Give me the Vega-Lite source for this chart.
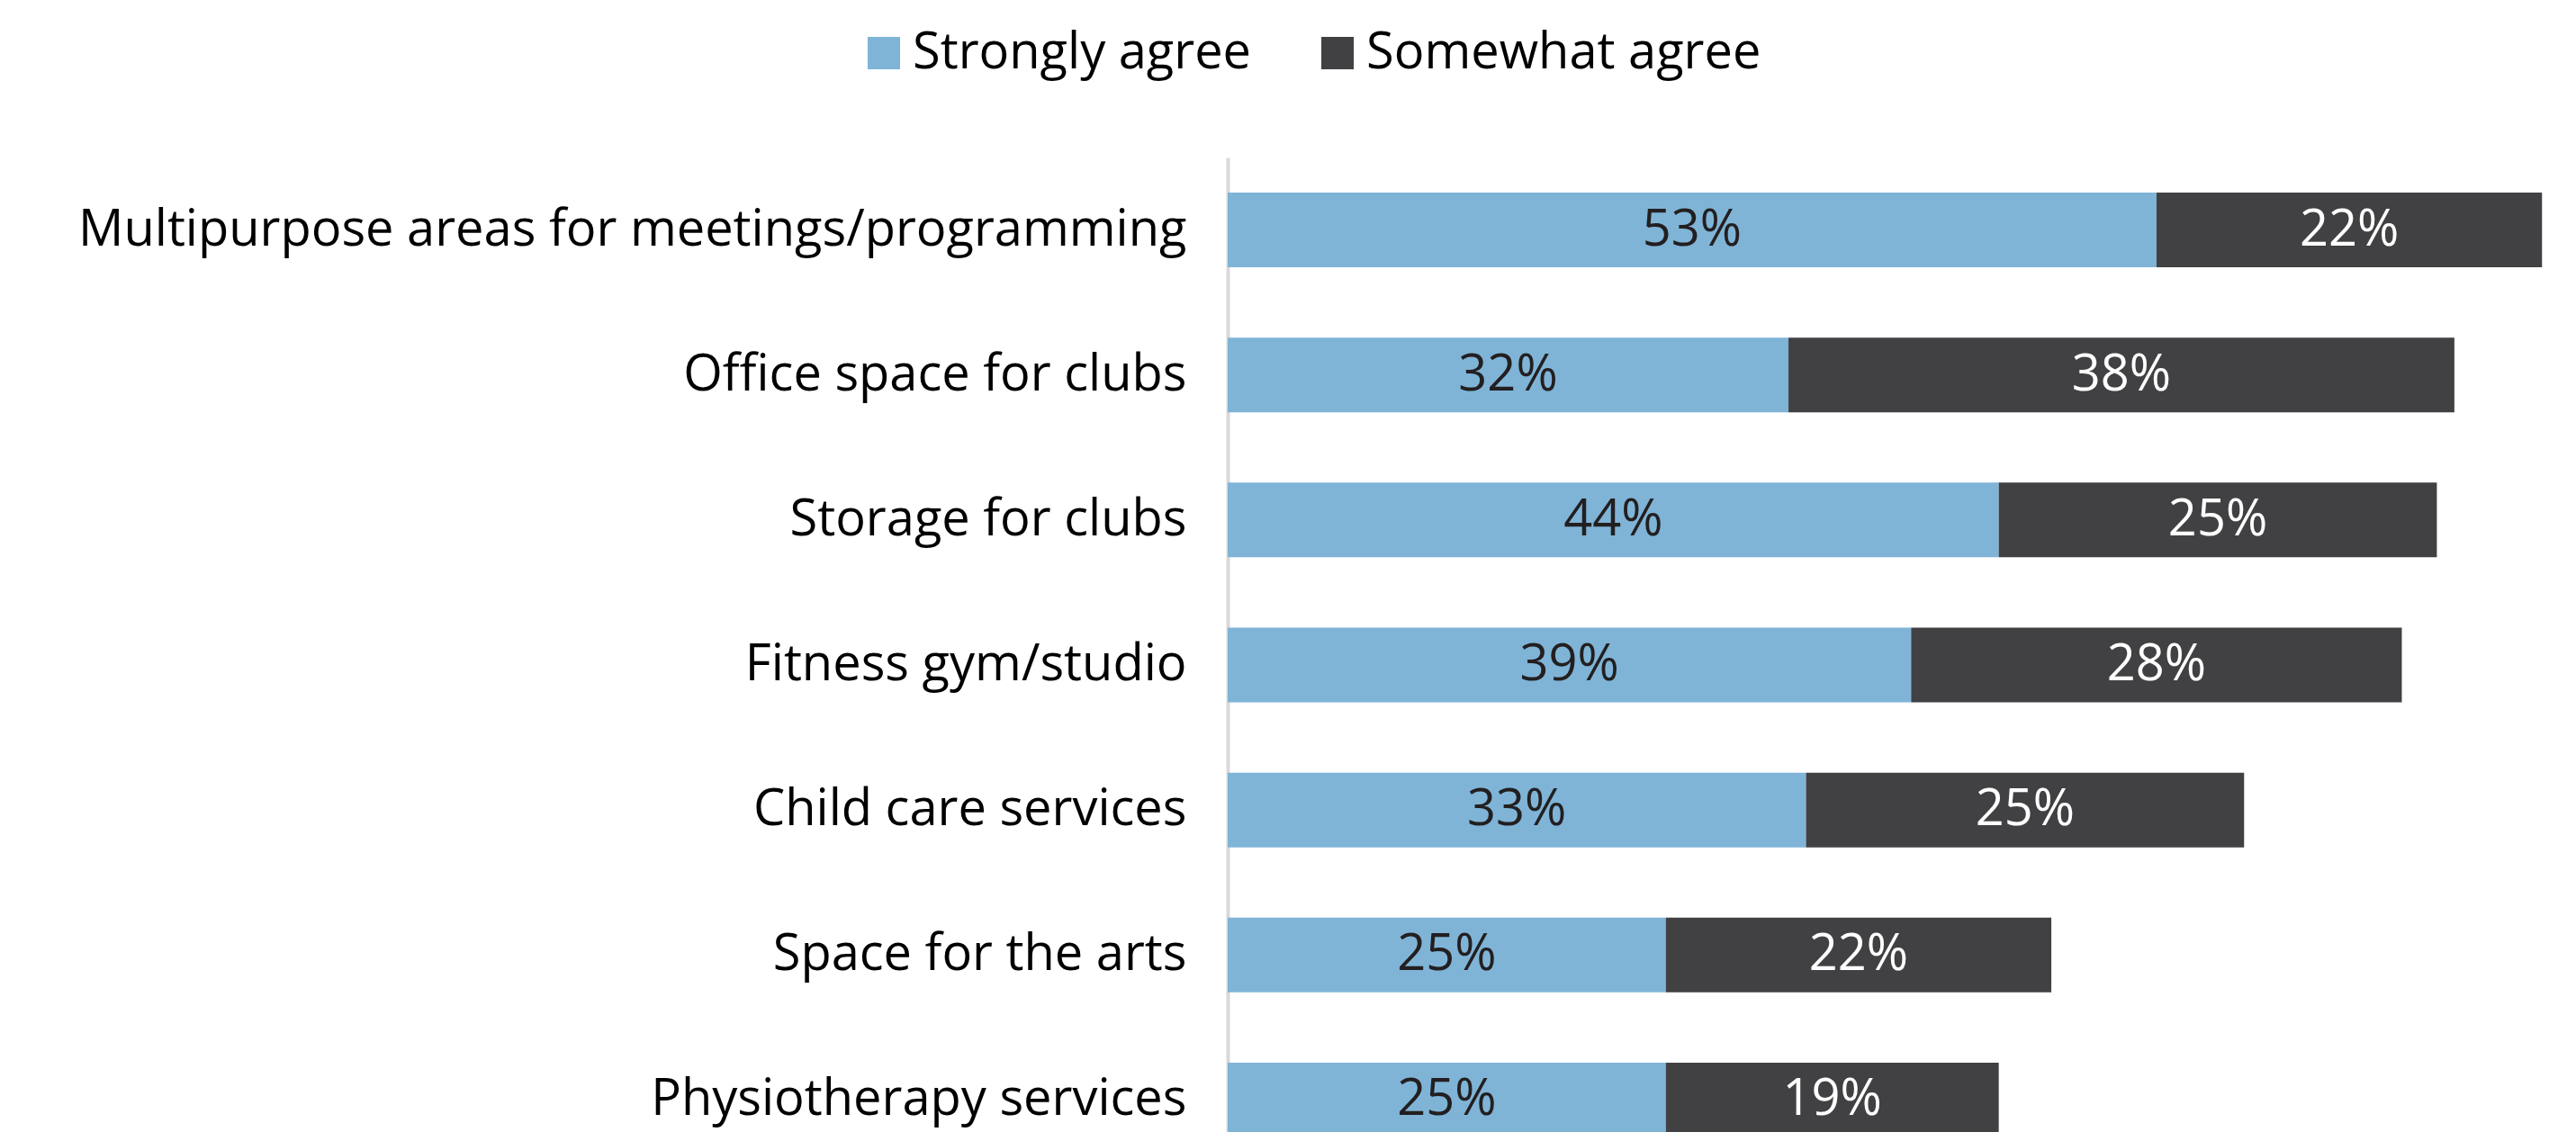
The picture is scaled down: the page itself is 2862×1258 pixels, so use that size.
{
  "$schema": "https://vega.github.io/schema/vega-lite/v6.json",
  "width": 1498,
  "height": 1083,
  "autosize": "none",
  "padding": {"left": 1364, "top": 175, "right": 0, "bottom": 0},
  "background": "white",
  "config": {"view": {"stroke": null}, "font": "Open Sans"},
  "data": {"values": [
    {"item": "Multipurpose areas for meetings/programming", "type": "Strongly agree", "ord": 1, "value": 0.53},
    {"item": "Multipurpose areas for meetings/programming", "type": "Somewhat agree", "ord": 2, "value": 0.22},
    {"item": "Office space for clubs", "type": "Strongly agree", "ord": 1, "value": 0.32},
    {"item": "Office space for clubs", "type": "Somewhat agree", "ord": 2, "value": 0.38},
    {"item": "Storage for clubs", "type": "Strongly agree", "ord": 1, "value": 0.44},
    {"item": "Storage for clubs", "type": "Somewhat agree", "ord": 2, "value": 0.25},
    {"item": "Fitness gym/studio", "type": "Strongly agree", "ord": 1, "value": 0.39},
    {"item": "Fitness gym/studio", "type": "Somewhat agree", "ord": 2, "value": 0.28},
    {"item": "Child care services", "type": "Strongly agree", "ord": 1, "value": 0.33},
    {"item": "Child care services", "type": "Somewhat agree", "ord": 2, "value": 0.25},
    {"item": "Space for the arts", "type": "Strongly agree", "ord": 1, "value": 0.25},
    {"item": "Space for the arts", "type": "Somewhat agree", "ord": 2, "value": 0.22},
    {"item": "Physiotherapy services", "type": "Strongly agree", "ord": 1, "value": 0.25},
    {"item": "Physiotherapy services", "type": "Somewhat agree", "ord": 2, "value": 0.19}
  ]},
  "transform": [
    {"stack": "value", "groupby": ["item"], "sort": [{"field": "ord", "order": "ascending"}], "as": ["start", "end"]}
  ],
  "encoding": {
    "y": {
      "field": "item", "type": "nominal",
      "sort": ["Multipurpose areas for meetings/programming", "Office space for clubs", "Storage for clubs", "Fitness gym/studio", "Child care services", "Space for the arts", "Physiotherapy services"],
      "scale": {"range": [0, 1128], "paddingInner": 0.485, "paddingOuter": 0.2425},
      "axis": {
        "title": null, "ticks": false, "grid": false,
        "domain": true, "domainColor": "#D9D9D9", "domainWidth": 4,
        "labelFontSize": 56, "labelColor": "#000000", "labelPadding": 46, "labelLimit": 0
      }
    }
  },
  "layer": [
    {
      "mark": {"type": "bar"},
      "encoding": {
        "x": {"field": "start", "type": "quantitative", "scale": {"domain": [0, 0.7694], "nice": false, "zero": true}, "axis": null},
        "x2": {"field": "end"},
        "color": {
          "field": "type", "type": "nominal",
          "scale": {"domain": ["Strongly agree", "Somewhat agree"], "range": ["#7FB4D7", "#414143"]},
          "legend": {
            "title": null, "orient": "none", "legendX": -410, "legendY": -144,
            "direction": "horizontal", "symbolType": "square", "symbolSize": 1296,
            "symbolStrokeWidth": 0, "labelFontSize": 56, "labelColor": "#000000",
            "labelOffset": 4, "columnPadding": 67, "labelLimit": 0
          }
        }
      }
    },
    {
      "transform": [
        {"fold": ["start", "end"], "as": ["k", "pos"]},
        {"aggregate": [{"op": "mean", "field": "pos", "as": "mid"}, {"op": "max", "field": "value", "as": "v"}], "groupby": ["item", "type"]}
      ],
      "mark": {"type": "text", "fontSize": 56, "baseline": "middle", "align": "center"},
      "encoding": {
        "x": {"field": "mid", "type": "quantitative"},
        "text": {"field": "v", "type": "quantitative", "format": ".0%"},
        "color": {"condition": {"test": "datum.type === 'Strongly agree'", "value": "#231F20"}, "value": "#FFFFFF"}
      }
    }
  ]
}
